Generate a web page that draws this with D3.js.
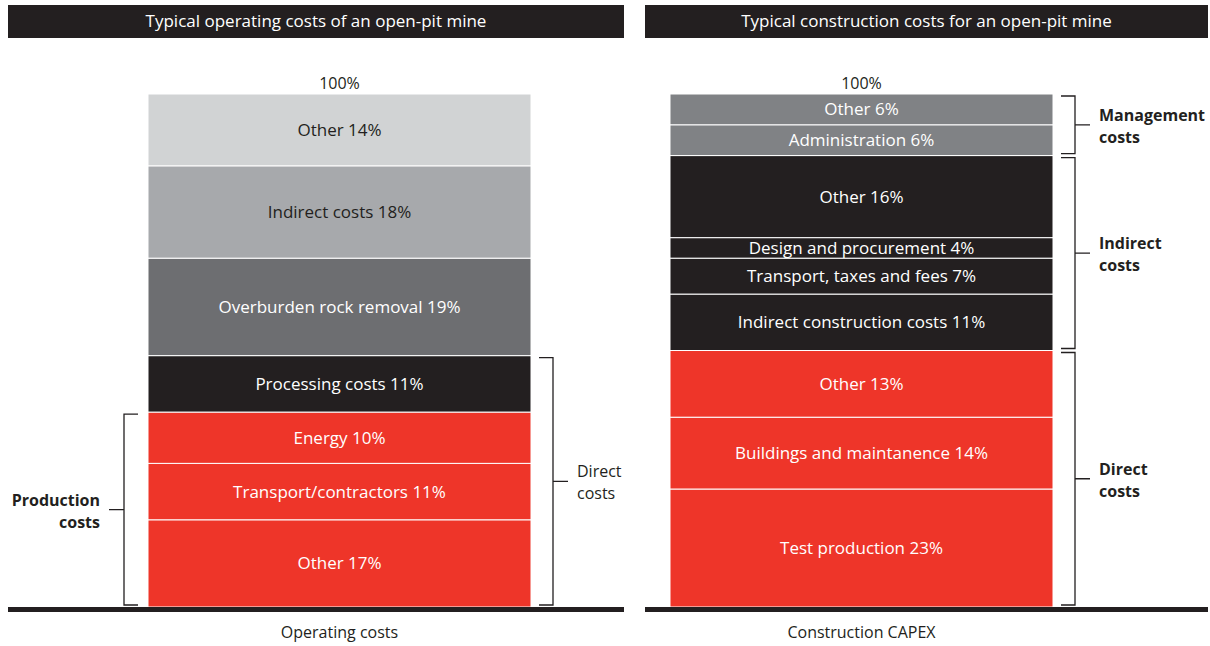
<!DOCTYPE html>
<html>
<head>
<meta charset="utf-8">
<script src="https://cdn.jsdelivr.net/npm/d3@7"></script>
<style>
  body { margin: 0; background: #fff; }
  svg { display: block; font-family: "Open Sans", sans-serif; }
</style>
</head>
<body>
<svg id="chart" width="1210" height="646"></svg>
<script>
// operating costs, bottom to top
const opLabels = ["Other", "Transport/contractors", "Energy", "Processing costs",
  "Overburden rock removal", "Indirect costs", "Other"];
const opValues = [17, 11, 10, 11, 19, 18, 14];

// construction costs, bottom to top
const capLabels = ["Test production", "Buildings and maintanence", "Other",
  "Indirect construction costs", "Transport, taxes and fees", "Design and procurement",
  "Other", "Administration", "Other"];
const capValues = [23, 14, 13, 11, 7, 4, 16, 6, 6];

// groups drawn as brackets: [label, first segment, last segment]
const opBracketsLeft = [["Production", "costs", 0, 2]];
const opBracketsRight = [["Direct", "costs", 0, 3]];
const capBrackets = [["Direct", "costs", 0, 2], ["Indirect", "costs", 3, 6], ["Management", "costs", 7, 8]];

const titles = ["Typical operating costs of an open-pit mine", "Typical construction costs for an open-pit mine"];
const barNames = ["Operating costs", "Construction CAPEX"];

// colours per segment
const red = "#ee3529", black = "#231f20";
const opColors = [red, red, red, black, "#6d6e71", "#a7a9ac", "#d1d3d4"];
const opText = ["#fff", "#fff", "#fff", "#fff", "#fff", black, black];
const capColors = [red, red, red, black, black, black, black, "#808285", "#808285"];

const svg = d3.select("#chart");

const y = d3.scaleLinear().domain([0, 100]).range([607, 94]);

function stack(values) {
  let acc = 0;
  return values.map(v => { const s = acc; acc += v; return [s, acc]; });
}

function drawPanel(opt) {
  const g = svg.append("g");
  // header
  g.append("rect").attr("x", opt.hx0).attr("y", 5).attr("width", opt.hx1 - opt.hx0).attr("height", 33)
    .attr("fill", black);
  g.append("text").attr("x", (opt.hx0 + opt.hx1) / 2).attr("y", 27).attr("text-anchor", "middle")
    .attr("fill", "#fff").attr("font-size", 17).text(opt.title);

  const x = d3.scaleBand().domain([opt.name]).range([opt.bx0, opt.bx1]).padding(0);
  const st = stack(opt.values);

  g.selectAll("rect.seg").data(opt.values).join("rect")
    .attr("class", "seg")
    .attr("x", x(opt.name)).attr("width", x.bandwidth())
    .attr("y", (d, i) => y(st[i][1]))
    .attr("height", (d, i) => y(st[i][0]) - y(st[i][1]))
    .attr("fill", (d, i) => opt.colors[i])
    .attr("stroke", "#fff").attr("stroke-width", 1);

  g.selectAll("text.seg").data(opt.values).join("text")
    .attr("class", "seg")
    .attr("x", x(opt.name) + x.bandwidth() / 2)
    .attr("y", (d, i) => (y(st[i][0]) + y(st[i][1])) / 2 + 6)
    .attr("text-anchor", "middle").attr("font-size", 17)
    .attr("fill", (d, i) => opt.textColors ? opt.textColors[i] : "#fff")
    .text((d, i) => `${opt.labels[i]} ${d}%`);

  g.append("text").attr("x", x(opt.name) + x.bandwidth() / 2).attr("y", 89)
    .attr("text-anchor", "middle").attr("font-size", 16).attr("fill", black).text("100%");

  // baseline
  g.append("rect").attr("x", opt.hx0).attr("y", 607).attr("width", opt.hx1 - opt.hx0).attr("height", 5)
    .attr("fill", black);

  g.append("text").attr("x", x(opt.name) + x.bandwidth() / 2).attr("y", 638)
    .attr("text-anchor", "middle").attr("font-size", 16).attr("fill", black).text(opt.name);

  // brackets
  opt.brackets.forEach(b => {
    const top = y(st[b.to][1]) + 2, bot = y(st[b.from][0]) - 2;
    const mid = (top + bot) / 2;
    const dir = b.side === "right" ? 1 : -1;
    const vx = b.vx, ex = vx - dir * 14;
    g.append("path")
      .attr("d", `M${ex},${top}H${vx}V${bot}H${ex}M${vx},${mid}H${vx + dir * 15}`)
      .attr("fill", "none").attr("stroke", black).attr("stroke-width", 1.3);
    const t = g.append("text").attr("x", vx + dir * 24).attr("y", mid - 4)
      .attr("text-anchor", dir > 0 ? "start" : "end")
      .attr("font-size", 16).attr("fill", black)
      .attr("font-weight", b.bold ? 700 : 400);
    t.append("tspan").text(b.l1);
    t.append("tspan").attr("x", vx + dir * 24).attr("dy", 22).text(b.l2);
  });
}

drawPanel({
  title: titles[0], name: barNames[0], hx0: 8, hx1: 624, bx0: 148, bx1: 531,
  labels: opLabels, values: opValues, colors: opColors, textColors: opText,
  brackets: [
    ...opBracketsLeft.map(b => ({ l1: b[0], l2: b[1], from: b[2], to: b[3], side: "left", vx: 124, bold: true })),
    ...opBracketsRight.map(b => ({ l1: b[0], l2: b[1], from: b[2], to: b[3], side: "right", vx: 553, bold: false }))
  ]
});

drawPanel({
  title: titles[1], name: barNames[1], hx0: 645, hx1: 1208, bx0: 670, bx1: 1053,
  labels: capLabels, values: capValues, colors: capColors,
  brackets: capBrackets.map(b => ({ l1: b[0], l2: b[1], from: b[2], to: b[3], side: "right", vx: 1075, bold: true }))
});
</script>
</body>
</html>
